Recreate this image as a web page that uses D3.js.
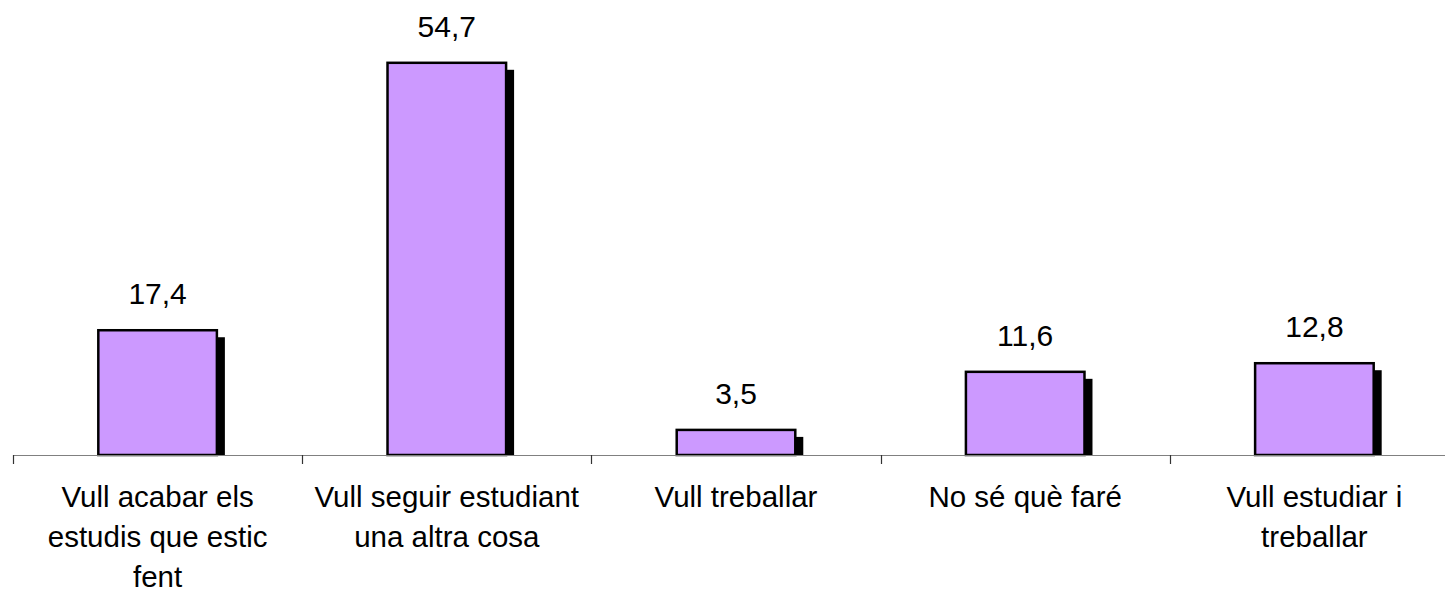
<!DOCTYPE html>
<html>
<head>
<meta charset="utf-8">
<script src="https://cdn.jsdelivr.net/npm/d3@7"></script>
<style>
    body { margin: 0; background: #fff; }
    svg text { font-family: "Liberation Sans", Arial, sans-serif; fill: #000; }
</style>
</head>
<body>
<svg id="chart" width="1445" height="592"></svg>
<script>
"use strict";

const categories = [
    ['Vull acabar els', 'estudis que estic', 'fent'],
    ['Vull seguir estudiant', 'una altra cosa'],
    ['Vull treballar'],
    ['No sé què faré'],
    ['Vull estudiar i', 'treballar']
];
const values = [17.4, 54.7, 3.5, 11.6, 12.8];
const value_labels = ['17,4', '54,7', '3,5', '11,6', '12,8'];

const svg = d3.select('#chart');
const baseline = 455, left = 13, right = 1459;
const px_per_unit = 7.17;

const keys = categories.map((c, i) => i);
const x = d3.scaleBand().domain(keys).range([left, right])
    .paddingInner(0.59).paddingOuter(0.295);
const y = d3.scaleLinear().domain([0, 60]).range([baseline, baseline - 60 * px_per_unit]);

const data = values.map((v, i) => ({i: i, v: v, label: value_labels[i], lines: categories[i]}));

// shadows
svg.append('g').selectAll('rect').data(data).enter().append('rect')
    .attr('x', d => x(d.i) + 8)
    .attr('y', d => y(d.v) + 7)
    .attr('width', x.bandwidth())
    .attr('height', d => baseline - y(d.v) - 7)
    .style('fill', '#000');

// bars
svg.append('g').selectAll('rect').data(data).enter().append('rect')
    .attr('x', d => x(d.i))
    .attr('y', d => y(d.v))
    .attr('width', x.bandwidth())
    .attr('height', d => baseline - y(d.v))
    .style('fill', '#cc99ff')
    .style('stroke', '#000')
    .style('stroke-width', 2.5);

// axis
const step = x.step();
const tick_positions = d3.range(keys.length + 1).map(k => left + k * step);
const axis = svg.append('g');
axis.append('line')
    .attr('x1', left).attr('x2', right)
    .attr('y1', baseline + 0.5).attr('y2', baseline + 0.5)
    .style('stroke', '#808080').style('stroke-width', 1.2);
axis.selectAll('.tick').data(tick_positions).enter().append('line')
    .attr('class', 'tick')
    .attr('x1', d => Math.round(d) + 0.5).attr('x2', d => Math.round(d) + 0.5)
    .attr('y1', baseline).attr('y2', baseline + 9)
    .style('stroke', '#333').style('stroke-width', 1.2);

// value labels
svg.append('g').selectAll('text').data(data).enter().append('text')
    .attr('x', d => x(d.i) + x.bandwidth() / 2)
    .attr('y', d => y(d.v) - 26)
    .attr('text-anchor', 'middle')
    .style('font-size', '30px')
    .text(d => d.label);

// category labels
const cat = svg.append('g').selectAll('text').data(data).enter().append('text')
    .attr('x', d => x(d.i) + x.bandwidth() / 2)
    .attr('y', baseline + 52)
    .attr('text-anchor', 'middle')
    .style('font-size', '29.5px');
cat.selectAll('tspan').data(d => d.lines.map(l => ({l: l, cx: x(d.i) + x.bandwidth() / 2}))).enter()
    .append('tspan')
    .attr('x', d => d.cx)
    .attr('dy', (d, k) => k === 0 ? 0 : 40)
    .text(d => d.l);
</script>
</body>
</html>
